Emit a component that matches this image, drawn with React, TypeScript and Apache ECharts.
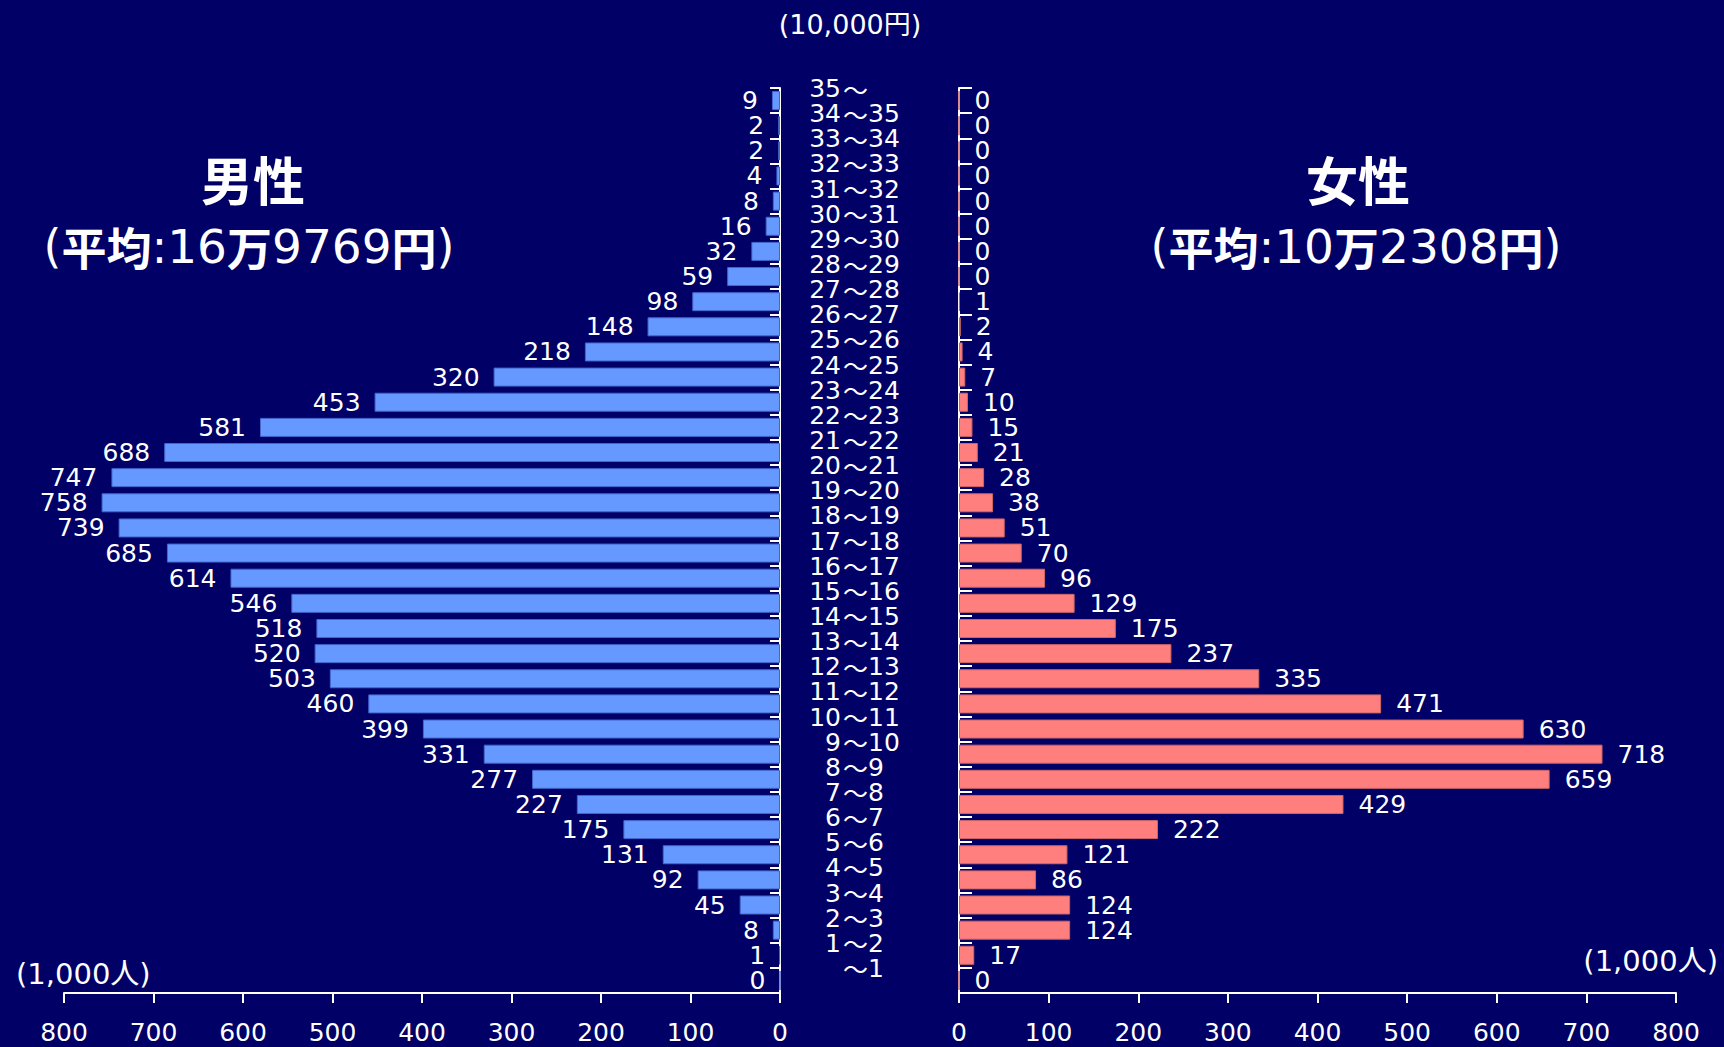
import React, { useEffect, useRef } from "react";
import * as echarts from "echarts";

// Income brackets (10,000 yen), bottom to top
const categories = [
  "～1", "1～2", "2～3", "3～4", "4～5", "5～6", "6～7", "7～8", "8～9", "9～10",
  "10～11", "11～12", "12～13", "13～14", "14～15", "15～16", "16～17", "17～18",
  "18～19", "19～20", "20～21", "21～22", "22～23", "23～24", "24～25", "25～26",
  "26～27", "27～28", "28～29", "29～30", "30～31", "31～32", "32～33", "33～34",
  "34～35", "35～",
];

// Number of people (1,000), same order as categories
const maleValues = [
  0, 1, 8, 45, 92, 131, 175, 227, 277, 331, 399, 460, 503, 520, 518, 546, 614, 685,
  739, 758, 747, 688, 581, 453, 320, 218, 148, 98, 59, 32, 16, 8, 4, 2, 2, 9,
];
const femaleValues = [
  0, 17, 124, 124, 86, 121, 222, 429, 659, 718, 630, 471, 335, 237, 175, 129, 96, 70,
  51, 38, 28, 21, 15, 10, 7, 4, 2, 1, 0, 0, 0, 0, 0, 0, 0, 0,
];

const axisMax = 800;
const axisStep = 100;

const maleTitle = "男性";
const femaleTitle = "女性";
const maleAverage = { man: "16", rest: "9769" };
const femaleAverage = { man: "10", rest: "2308" };

const NUM = '"DejaVu Sans", "Noto Sans CJK JP", sans-serif';
const CJK = '"Noto Sans CJK JP", sans-serif';
const WHITE = "#ffffff";
const BG = "#000066";

// Bracket labels are split at the wave dash: the lower bound is right-aligned
// against it, the wave dash and upper bound run to the right.
const lowerBound = (v: string) => v.slice(0, v.indexOf("～"));
const upperPart = (v: string) => v.slice(v.indexOf("～") + 1);

function averageText(avg: { man: string; rest: string }) {
  return `{p|(}{k|平均}{n|:${avg.man}}{k|万}{n|${avg.rest}}{k|円}{p|)}`;
}

const averageRich = {
  p: { fontFamily: NUM, fontSize: 46, color: WHITE },
  k: { fontFamily: CJK, fontSize: 45, fontWeight: "bold", color: WHITE },
  n: { fontFamily: NUM, fontSize: 47, color: WHITE },
};

export default function App() {
  const ref = useRef<HTMLDivElement>(null);

  useEffect(() => {
    if (!ref.current) return;
    const chart = echarts.init(ref.current, null, { renderer: "svg" });

    const lineStyle = { color: WHITE, width: 2 };
    const labelText = { color: WHITE, fontSize: 25, fontFamily: NUM };
    // label centred on the upper edge of each band
    const bracketText = {
      interval: 0,
      verticalAlign: "bottom",
      fontSize: 25,
      lineHeight: 24,
      color: WHITE,
    };

    chart.setOption({
      animation: false,
      backgroundColor: BG,
      textStyle: { fontFamily: NUM },
      grid: [
        { left: 64, right: 944, top: 88, bottom: 54 },
        { left: 959, right: 48, top: 88, bottom: 54 },
      ],
      xAxis: [
        {
          gridIndex: 0,
          type: "value",
          inverse: true,
          min: 0,
          max: axisMax,
          interval: axisStep,
          axisLine: { show: true, lineStyle },
          axisTick: { show: true, length: 10, lineStyle },
          axisLabel: { ...labelText, margin: 27 },
          splitLine: { show: false },
        },
        {
          gridIndex: 1,
          type: "value",
          min: 0,
          max: axisMax,
          interval: axisStep,
          axisLine: { show: true, lineStyle },
          axisTick: { show: true, length: 10, lineStyle },
          axisLabel: { ...labelText, margin: 27 },
          splitLine: { show: false },
        },
      ],
      yAxis: [
        {
          gridIndex: 0,
          type: "category",
          position: "right",
          data: categories,
          axisLine: { show: true, lineStyle },
          axisTick: { show: true, inside: true, length: 10, interval: 0, lineStyle },
          axisLabel: {
            ...bracketText,
            margin: 61,
            align: "right",
            fontFamily: NUM,
            formatter: lowerBound,
          },
        },
        {
          gridIndex: 1,
          type: "category",
          position: "left",
          data: categories,
          axisLine: { show: true, lineStyle },
          axisTick: { show: true, inside: true, length: 13, interval: 0, lineStyle },
          axisLabel: {
            ...bracketText,
            margin: 116,
            align: "left",
            formatter: (v: string) => `{t|～}{c|${upperPart(v)}}`,
            rich: {
              t: { fontSize: 25, lineHeight: 24, fontFamily: CJK, color: WHITE },
              c: { fontSize: 25, lineHeight: 24, fontFamily: NUM, color: WHITE },
            },
          },
        },
      ],
      series: [
        {
          name: maleTitle,
          type: "bar",
          xAxisIndex: 0,
          yAxisIndex: 0,
          data: maleValues,
          barWidth: 19,
          itemStyle: { color: "#6699ff", borderColor: "#4466cc", borderWidth: 1 },
          label: { show: true, position: "left", distance: 14, ...labelText },
        },
        {
          name: femaleTitle,
          type: "bar",
          xAxisIndex: 1,
          yAxisIndex: 1,
          data: femaleValues,
          barWidth: 19,
          itemStyle: { color: "#ff7f7f", borderColor: "#cc6666", borderWidth: 1 },
          label: { show: true, position: "right", distance: 15, ...labelText },
        },
      ],
      graphic: [
        {
          type: "text",
          x: 850,
          y: 24,
          style: { text: "(10,000円)", fill: WHITE, font: `27px ${NUM}`, align: "center", verticalAlign: "middle" },
        },
        {
          type: "text",
          x: 16,
          y: 974,
          style: { text: "(1,000人)", fill: WHITE, font: `29px ${NUM}`, align: "left", verticalAlign: "middle" },
        },
        {
          type: "text",
          x: 1718,
          y: 961,
          style: { text: "(1,000人)", fill: WHITE, font: `29px ${NUM}`, align: "right", verticalAlign: "middle" },
        },
        {
          type: "text",
          x: 253,
          y: 178,
          style: { text: maleTitle, fill: WHITE, font: `bold 52px ${CJK}`, align: "center", verticalAlign: "middle" },
        },
        {
          type: "text",
          x: 1358,
          y: 178,
          style: { text: femaleTitle, fill: WHITE, font: `bold 52px ${CJK}`, align: "center", verticalAlign: "middle" },
        },
        {
          type: "text",
          x: 249,
          y: 246,
          style: { text: averageText(maleAverage), rich: averageRich, fill: WHITE, align: "center", verticalAlign: "middle" },
        },
        {
          type: "text",
          x: 1356,
          y: 246,
          style: { text: averageText(femaleAverage), rich: averageRich, fill: WHITE, align: "center", verticalAlign: "middle" },
        },
      ],
    });

    return () => chart.dispose();
  }, []);

  return (
    <div
      ref={ref}
      style={{ position: "fixed", left: 0, top: 0, width: 1724, height: 1047, background: BG }}
    />
  );
}
